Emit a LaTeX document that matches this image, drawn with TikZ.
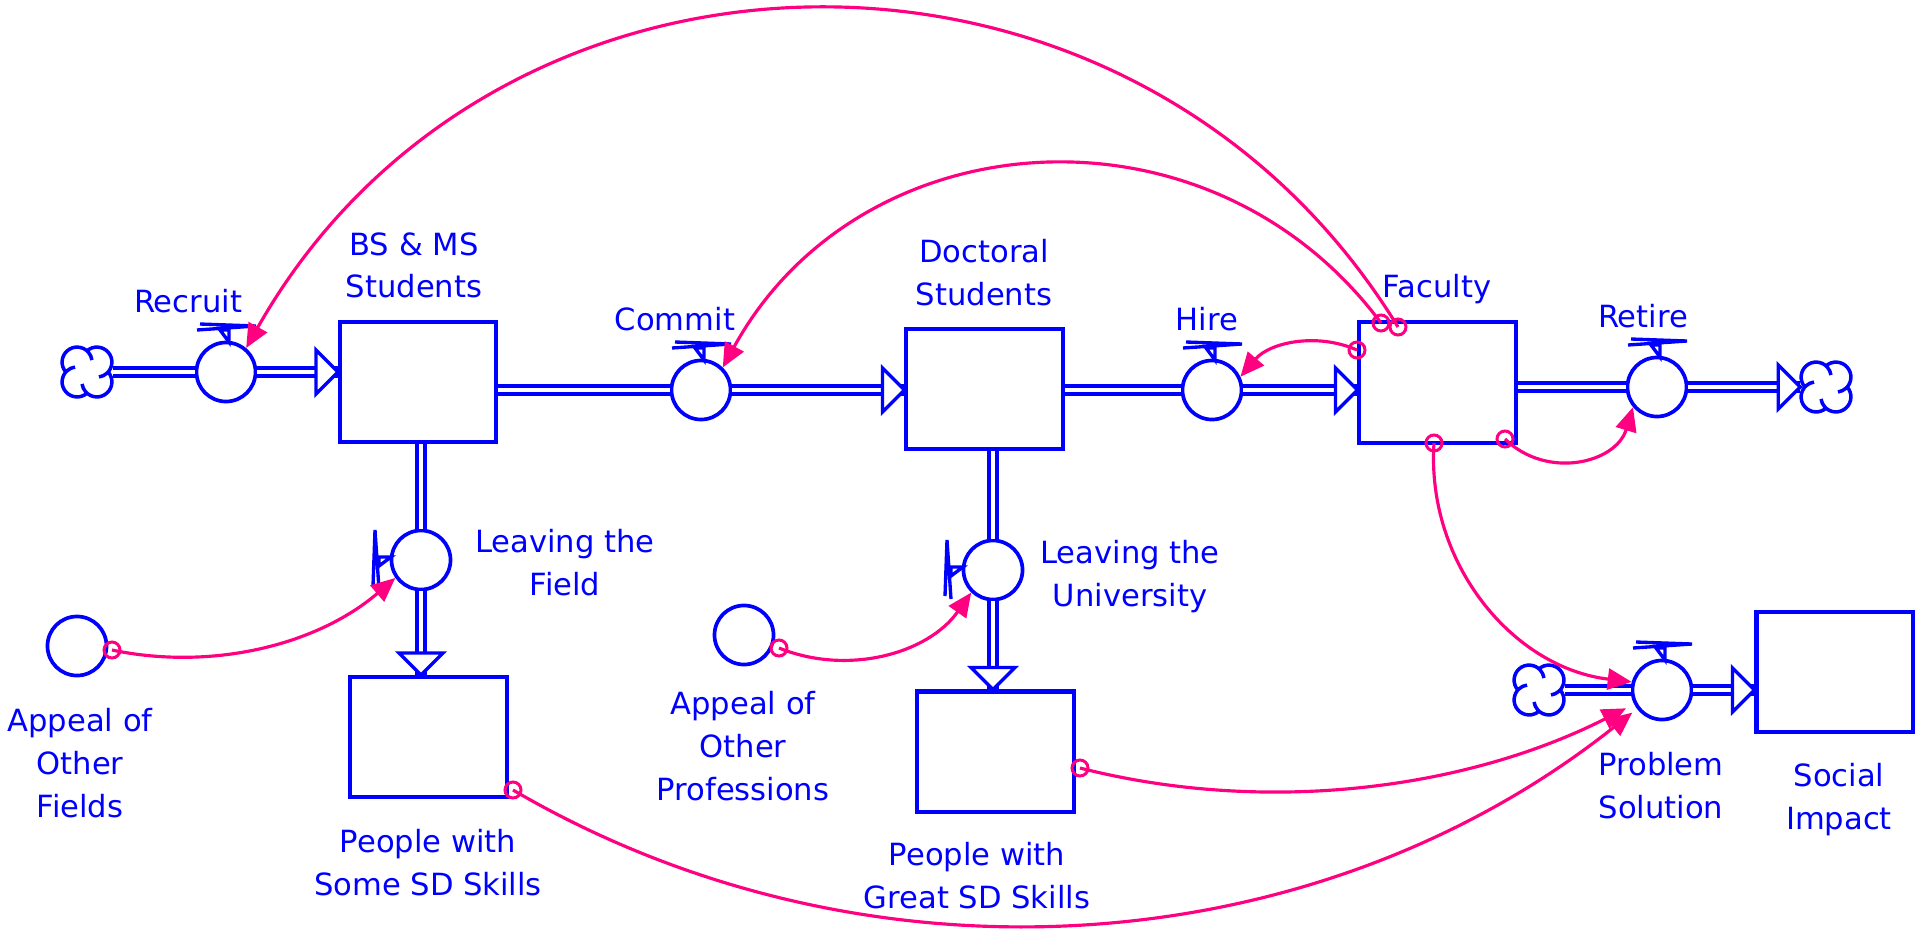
\documentclass[tikz,border=0pt]{standalone}
\usepackage{fontspec}
\setmainfont{DejaVu Sans}
\usepackage{tikz}
\usetikzlibrary{arrows.meta}
\definecolor{sdblue}{RGB}{0,0,255}
\definecolor{sdpink}{RGB}{255,0,128}

\tikzset{
	stock/.style={rectangle, draw=sdblue, line width=1.15pt, minimum width=1.56cm, minimum height=1.2cm, inner sep=0pt},
	valve/.style={circle, draw=sdblue, fill=white, line width=1.05pt, minimum size=0.59cm, inner sep=0pt},
	cloudspot/.style={circle, minimum size=0.5cm, inner sep=0pt},
	pipe/.style={draw=sdblue, line width=0.95pt, double=white, double distance=1.3pt},
	pipehead/.style={draw=sdblue, fill=white, line width=0.95pt},
	tail/.style={circle, draw=sdpink, line width=0.85pt, minimum size=0.16cm, inner sep=0pt},
	link/.style={draw=sdpink, line width=0.9pt, -{Triangle[length=0.24cm,width=0.21cm]}},
	lab/.style={text=sdblue, align=center, inner sep=0pt, anchor=north, font=\fontsize{8.7}{12.1}\selectfont}
}

\begin{document}
\begin{tikzpicture}[x=0.01cm, y=-0.01cm]
	\useasboundingbox (0,0) rectangle (1915,930);

	% stocks
	\node[stock] (BS) at (418,382) {};
	\node[stock] (DS) at (984.5,389) {};
	\node[stock] (FA) at (1437.5,382.5) {};
	\node[stock] (SK1) at (428.5,737) {};
	\node[stock] (SK2) at (995.5,751.5) {};
	\node[stock] (SI) at (1834.5,672) {};

	% valves and auxiliaries
	\node[valve] (R) at (226,372) {};
	\node[valve] (C) at (701,390) {};
	\node[valve] (H) at (1212,390) {};
	\node[valve] (RT) at (1657,387) {};
	\node[valve] (LF) at (421,560) {};
	\node[valve] (LU) at (993,570) {};
	\node[valve] (P) at (1662,690) {};
	\node[valve] (AF) at (77,646) {};
	\node[valve] (AP) at (744,635) {};

	% clouds
	\node[cloudspot] (srcR) at (87,372) {};
	\node[cloudspot] (sinkR) at (1826,387) {};
	\node[cloudspot] (srcP) at (1539,690) {};
	\foreach \c in {srcR,sinkR,srcP}
		\foreach \a in {45,135,225,315}
			\draw[sdblue, line width=1pt, shift={(\c)}] (\a:14) ++({\a-87}:15) arc[start angle={\a-87}, delta angle=214, radius=15];

	% valve handles
	\foreach \v/\r in {R/0,C/0,H/0,RT/0,P/0,LF/90,LU/90}
		\draw[sdblue, line width=0.95pt, shift={(\v)}, rotate=\r] (-26,-48) -- (30,-46) -- (-29,-42) (-6,-42) -- (3,-42) -- (3,-30) -- cycle;

	% flows
	\draw[pipe] (srcR) -- (R);
	\draw[pipe] (R) -- (BS.west |- R);
	\draw[pipehead] (BS.west |- R) -- ++(-22,-22) -- ++(0,44) -- cycle;
	\draw[pipe] (BS.east |- C) -- (C);
	\draw[pipe] (C) -- (DS.west |- C);
	\draw[pipehead] (DS.west |- C) -- ++(-22,-22) -- ++(0,44) -- cycle;
	\draw[pipe] (DS.east |- H) -- (H);
	\draw[pipe] (H) -- (FA.west |- H);
	\draw[pipehead] (FA.west |- H) -- ++(-22,-22) -- ++(0,44) -- cycle;
	\draw[pipe] (FA.east |- RT) -- (RT);
	\draw[pipe] (RT) -- (sinkR);
	\draw[pipehead] (sinkR.west) -- ++(-22,-22) -- ++(0,44) -- cycle;
	\draw[pipe] (srcP) -- (P);
	\draw[pipe] (P) -- (SI.west |- P);
	\draw[pipehead] (SI.west |- P) -- ++(-22,-22) -- ++(0,44) -- cycle;
	\draw[pipe] (BS.south -| LF) -- (LF);
	\draw[pipe] (LF) -- (SK1.north -| LF);
	\draw[pipehead] (SK1.north -| LF) -- ++(-22,-22) -- ++(44,0) -- cycle;
	\draw[pipe] (DS.south -| LU) -- (LU);
	\draw[pipe] (LU) -- (SK2.north -| LU);
	\draw[pipehead] (SK2.north -| LU) -- ++(-22,-22) -- ++(44,0) -- cycle;

	% labels
	\node[lab] (lR) at (188,289) {Recruit};
	\node[lab] (lBS) at (414,232) {BS \& MS\\Students};
	\node[lab] (lC) at (675,307) {Commit};
	\node[lab] (lDS) at (984,239) {Doctoral\\Students};
	\node[lab] (lH) at (1207,307) {Hire};
	\node[lab] (lFA) at (1437,274) {Faculty};
	\node[lab] (lRT) at (1643,304) {Retire};
	\node[lab] (lLF) at (565,529) {Leaving the\\Field};
	\node[lab] (lAF) at (80,708) {Appeal of\\Other\\Fields};
	\node[lab] (lSK1) at (428,829) {People with\\Some SD Skills};
	\node[lab] (lAP) at (743,691) {Appeal of\\Other\\Professions};
	\node[lab] (lLU) at (1130,540) {Leaving the\\University};
	\node[lab] (lSK2) at (977,842) {People with\\Great SD Skills};
	\node[lab] (lP) at (1661,752) {Problem\\Solution};
	\node[lab] (lSI) at (1839,763) {Social\\Impact};

	% connector tails
	\node[tail] (t1) at (1398,327) {};
	\node[tail] (t2) at (1381,323) {};
	\node[tail] (t3) at (1357,350) {};
	\node[tail] (t4) at (1505,439) {};
	\node[tail] (t5) at (1434,443) {};
	\node[tail] (t6) at (112,650) {};
	\node[tail] (t7) at (779,648) {};
	\node[tail] (t8) at (513,790) {};
	\node[tail] (t9) at (1080,768) {};

	% information links
	\draw[link] (t1.center) .. controls +(-265,-433) and +(250,-442) .. (R.50);
	\draw[link] (t2.center) .. controls +(-171,-230) and +(138,-251) .. (C.46);
	\draw[link] (t3.center) .. controls +(-41,-18) and +(29,-34) .. (H.25);
	\draw[link] (t4.center) .. controls +(42,41) and +(-17,56) .. (RT.220);
	\draw[link] (t5.center) .. controls +(-8,120) and +(-119,-14) .. (P.165);
	\draw[link] (t6.center) .. controls +(100,21) and +(-78,67) .. (LF.215);
	\draw[link] (t7.center) .. controls +(69,28) and +(-43,61) .. (LU.226);
	\draw[link, shorten >=0.06cm] (t8.center) .. controls +(354,207) and +(-321,255) .. (P.217);
	\draw[link, shorten >=0.09cm] (t9.center) .. controls +(184,47) and +(-170,86) .. (P.207);
\end{tikzpicture}
\end{document}
